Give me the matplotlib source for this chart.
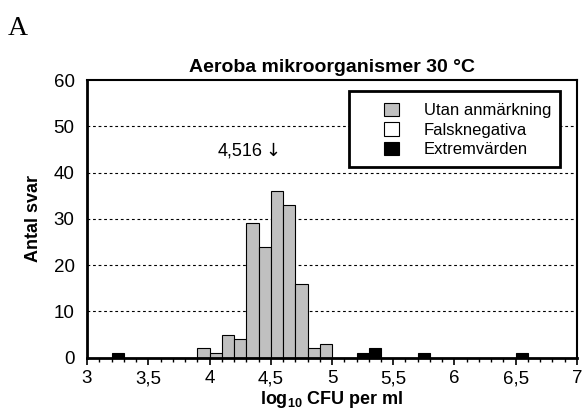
import numpy as np
import matplotlib.pyplot as plt
from matplotlib.patches import Patch, Rectangle
from matplotlib.ticker import MultipleLocator

plt.rcParams['font.family'] = ['Liberation Sans', 'DejaVu Sans']
plt.rcParams['mathtext.fontset'] = 'custom'
plt.rcParams['mathtext.rm'] = 'Liberation Sans'
plt.rcParams['mathtext.bf'] = 'Liberation Sans:bold'

# histogram data (bin left edge, width 0.1 log units)
utan_bins = [3.9, 4.0, 4.1, 4.2, 4.3, 4.4, 4.5, 4.6, 4.7, 4.8, 4.9]
utan_counts = [2, 1, 5, 4, 29, 24, 36, 33, 16, 2, 3]
falsk_bins = []
falsk_counts = []
extrem_bins = [3.2, 5.2, 5.3, 5.7, 6.5]
extrem_counts = [1, 1, 2, 1, 1]

median = 4.516
x_ticks = [3, 3.5, 4, 4.5, 5, 5.5, 6, 6.5, 7]
x_labels = ['3', '3,5', '4', '4,5', '5', '5,5', '6', '6,5', '7']
y_ticks = [0, 10, 20, 30, 40, 50, 60]

fig = plt.figure(figsize=(5.82, 4.19), dpi=100)
ax = fig.add_axes([0.1495, 0.1463, 0.8419, 0.6627])

ax.bar(utan_bins, utan_counts, width=0.1, align='edge', color='#c0c0c0',
       edgecolor='black', linewidth=0.8, zorder=2)
ax.bar(falsk_bins, falsk_counts, width=0.1, align='edge', color='white',
       edgecolor='black', linewidth=0.8, zorder=2)
ax.bar(extrem_bins, extrem_counts, width=0.1, align='edge', color='black',
       edgecolor='black', linewidth=0.8, zorder=2)

# horizontal dashed grid
for yv in y_ticks[1:-1]:
    ax.axhline(yv, color='black', linestyle=(0, (2.5, 2.5)), linewidth=0.8, zorder=1)

ax.set_xlim(3, 7)
ax.set_ylim(0, 60)
ax.set_xticks(x_ticks)
ax.set_xticklabels(x_labels)
ax.xaxis.set_minor_locator(MultipleLocator(0.1))
ax.set_yticks(y_ticks)
ax.tick_params(axis='x', which='major', direction='out', length=5, width=1.2, labelsize=13.5, pad=4)
ax.tick_params(axis='x', which='minor', direction='out', length=3, width=1.0)
ax.tick_params(axis='y', length=0, labelsize=13.5, pad=9)

for s in ['left', 'bottom']:
    ax.spines[s].set_linewidth(2)
for s in ['top', 'right']:
    ax.spines[s].set_linewidth(1.5)

ax.set_title('Aeroba mikroorganismer 30 °C', fontsize=14, fontweight='bold', pad=6)
ax.set_ylabel('Antal svar', fontsize=13, fontweight='bold', labelpad=8)
ax.set_xlabel('log$_{\\mathbf{10}}$ CFU per ml', fontsize=13, fontweight='bold', labelpad=1)

# median marker
ax.text(4.434, 44.7, '4,516', fontsize=13, ha='right', va='center')
ax.text(median, 44.7, '↓', fontsize=13, ha='center', va='center',
        family=['DejaVu Sans'])

# legend with its own box
handles = [Patch(facecolor='#c0c0c0', edgecolor='black', linewidth=0.8, label='Utan anmärkning'),
           Patch(facecolor='white', edgecolor='black', linewidth=0.8, label='Falsknegativa'),
           Patch(facecolor='black', edgecolor='black', linewidth=0.8, label='Extremvärden')]
ax.legend(handles=handles, loc='upper left', bbox_to_anchor=(0.606, 0.918),
          frameon=False, fontsize=12, borderpad=0, borderaxespad=0,
          handlelength=0.9, handleheight=0.85, handletextpad=1.5, labelspacing=0.25)
ax.add_patch(Rectangle((0.535, 0.688), 0.43, 0.273, transform=ax.transAxes,
                       fill=True, facecolor='white', edgecolor='black',
                       linewidth=2, zorder=3))

fig.text(0.014, 0.9165, 'A', fontsize=20, family='Liberation Serif', va='baseline', ha='left')

plt.savefig('out.png', dpi=100)
